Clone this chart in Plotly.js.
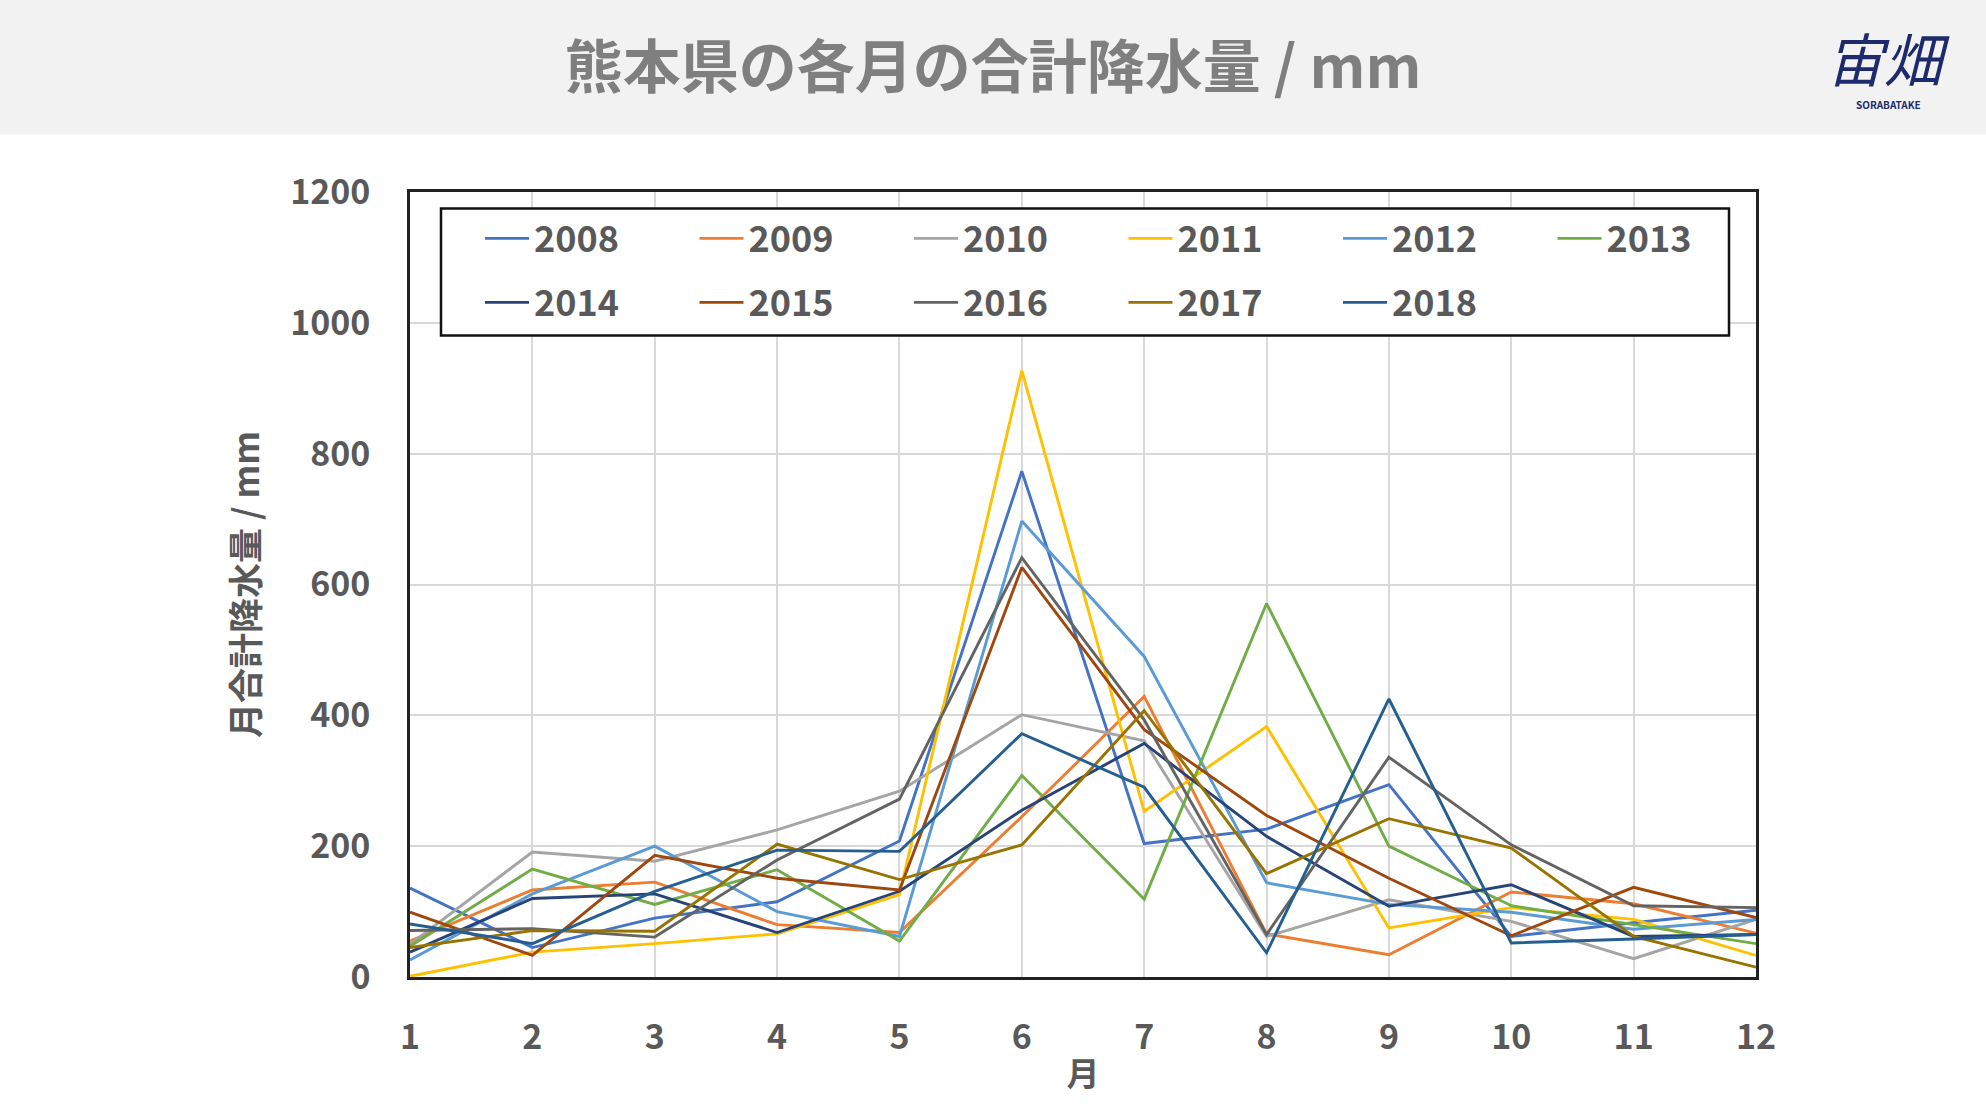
<!DOCTYPE html>
<html>
<head>
<meta charset="utf-8">
<script src="https://cdn.plot.ly/plotly-3.0.1.min.js"></script>
<style>
  html, body { margin: 0; padding: 0; background: #ffffff; }
  #chart { width: 1986px; height: 1117px; }
</style>
</head>
<body>
<div id="chart"></div>
<script>
// 熊本県 月別合計降水量 (mm)
var months = [1, 2, 3, 4, 5, 6, 7, 8, 9, 10, 11, 12];
var years = ['2008', '2009', '2010', '2011', '2012', '2013', '2014', '2015', '2016', '2017', '2018'];

var rain2008 = [136, 45, 90, 115, 208, 773, 204, 226, 294, 62, 83, 102];
var rain2009 = [55, 133, 145, 80, 68, 245, 429, 66, 34, 130, 112, 67];
var rain2010 = [50, 191, 177, 225, 284, 401, 361, 62, 118, 85, 28, 88];
var rain2011 = [1, 38, 51, 66, 126, 927, 253, 383, 75, 106, 88, 33];
var rain2012 = [26, 127, 200, 100, 62, 697, 490, 144, 111, 99, 73, 88];
var rain2013 = [47, 165, 111, 164, 55, 308, 119, 571, 200, 109, 80, 51];
var rain2014 = [38, 120, 127, 68, 131, 255, 357, 215, 108, 141, 62, 65];
var rain2015 = [99, 33, 186, 151, 133, 626, 378, 247, 151, 63, 137, 91];
var rain2016 = [71, 74, 61, 179, 272, 641, 393, 65, 336, 202, 109, 106];
var rain2017 = [45, 71, 70, 203, 149, 202, 407, 158, 242, 197, 62, 15];
var rain2018 = [81, 51, 131, 194, 192, 372, 290, 37, 425, 52, 58, 65];

var series = [rain2008, rain2009, rain2010, rain2011, rain2012, rain2013,
              rain2014, rain2015, rain2016, rain2017, rain2018];
var colors = ['#4472C4', '#ED7D31', '#A5A5A5', '#FFC000', '#5B9BD5', '#70AD47',
              '#264478', '#9E480E', '#636363', '#997300', '#255E91'];

var jp = '"Noto Sans CJK JP", "Noto Sans", sans-serif';

var data = [];
for (var i = 0; i < years.length; i++) {
    data.push({
        x: months,
        y: series[i],
        name: years[i],
        type: 'scatter',
        mode: 'lines',
        line: { color: colors[i], width: 2.9 },
        // first row of the legend box holds six years, the second the rest
        legend: i < 6 ? 'legend' : 'legend2'
    });
}

// plot area in pixels: left 410, top 192.5, width 1346, height 785
var W = 1346, H = 785;
function px(x) { return (x - 410) / W; }
function py(y) { return 1 - (y - 192.5) / H; }

var legendCommon = {
    orientation: 'h',
    xanchor: 'left',
    yanchor: 'middle',
    bgcolor: 'rgba(0,0,0,0)',
    borderwidth: 0,
    entrywidth: 155.5,
    entrywidthmode: 'pixels',
    itemwidth: 44,
    font: { size: 36, color: '#595959', weight: 'bold' }
};

var layout = {
    width: 1986,
    height: 1117,
    margin: { l: 410, r: 230, t: 192, b: 140 },
    paper_bgcolor: '#ffffff',
    plot_bgcolor: '#ffffff',
    font: { family: jp, color: '#595959', size: 34, weight: 'bold' },
    title: {
        text: '熊本県の各月の合計降水量 / mm',
        font: { family: jp, size: 58, color: '#7F7F7F', weight: 'bold' },
        xref: 'container', x: 0.5, xanchor: 'center',
        yref: 'container', y: 1 - 68 / 1117, yanchor: 'middle'
    },
    xaxis: {
        range: [1, 12],
        tickvals: months,
        ticks: '',
        ticklabelstandoff: 28,
        showgrid: true,
        gridcolor: '#D9D9D9',
        gridwidth: 2,
        showline: true,
        mirror: true,
        linecolor: '#222222',
        linewidth: 2.5,
        zeroline: false,
        title: { text: '月', standoff: 6, font: { size: 33, color: '#595959', weight: 'bold' } }
    },
    yaxis: {
        range: [0, 1200],
        dtick: 200,
        ticks: '',
        ticklabelstandoff: 30,
        showgrid: true,
        gridcolor: '#D9D9D9',
        gridwidth: 2,
        showline: true,
        mirror: true,
        linecolor: '#222222',
        linewidth: 2.5,
        zeroline: false,
        title: { text: '月合計降水量 / mm', standoff: 20, font: { size: 35, color: '#595959', weight: 'bold' } }
    },
    legend: Object.assign({}, legendCommon, { x: px(480), y: py(239) }),
    legend2: Object.assign({}, legendCommon, { x: px(480), y: py(303) }),
    shapes: [{
        // header band
        type: 'rect', xref: 'paper', yref: 'paper', layer: 'below',
        x0: -410 / W, x1: 1 + 230 / W,
        y0: py(135), y1: py(0),
        fillcolor: '#F2F2F2', line: { width: 0 }
    }, {
        // legend frame
        type: 'rect', xref: 'paper', yref: 'paper', layer: 'above',
        x0: px(441), x1: px(1729), y0: py(336), y1: py(209),
        fillcolor: '#ffffff', line: { color: '#111111', width: 2.5 }
    }],
    annotations: [{
        text: '<i>宙畑</i>', xref: 'paper', yref: 'paper',
        x: px(1888), y: py(58),
        xanchor: 'center', yanchor: 'middle', showarrow: false,
        font: { family: jp, size: 58, color: '#1E2A6E', weight: 'normal' }
    }, {
        text: 'SORABATAKE', xref: 'paper', yref: 'paper',
        x: px(1888), y: py(105),
        xanchor: 'center', yanchor: 'middle', showarrow: false,
        font: { family: jp, size: 10, color: '#1E2A6E', weight: 'bold' }
    }]
};

Plotly.newPlot(document.getElementById('chart'), data, layout, { displayModeBar: false });
</script>
</body>
</html>
